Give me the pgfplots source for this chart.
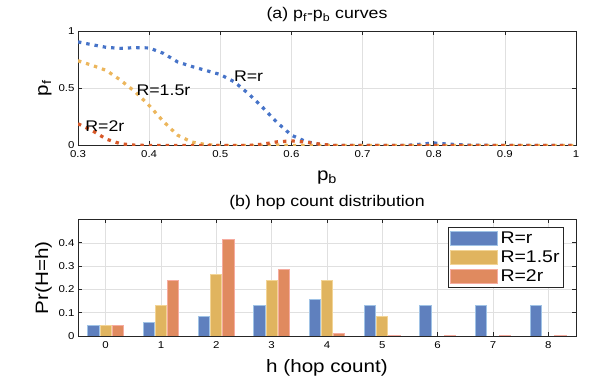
\documentclass[border=0pt]{standalone}
\usepackage{pgfplots}
\pgfplotsset{compat=1.18}
\usepackage{fontspec}
\setmainfont[FakeStretch=1.15]{Liberation Sans}
\definecolor{lblue}{RGB}{70,115,200}
\definecolor{lyellow}{RGB}{236,182,92}
\definecolor{lorange}{RGB}{215,88,40}
\definecolor{bblue}{RGB}{95,128,190}
\definecolor{bblueE}{RGB}{160,195,230}
\definecolor{byellow}{RGB}{224,180,95}
\definecolor{byellowE}{RGB}{242,212,150}
\definecolor{borange}{RGB}{224,138,95}
\definecolor{borangeE}{RGB}{246,172,160}
\pgfplotsset{
  mystyle/.style={
    scale only axis,
    axis line style={black!85, line width=0.6bp},
    every tick/.style={black!85, line width=0.6bp},
    major tick length=4bp,
    grid style={black!12, line width=0.5bp},
    xmajorgrids, ymajorgrids,
    tick label style={font=\fontsize{10}{11}\selectfont},
    xticklabel style={yshift=-2bp},
    /pgf/number format/assume math mode=true,
    title style={font=\fontsize{15.5}{17}\selectfont},
    label style={font=\fontsize{18}{20}\selectfont},
  },
  dotline/.style={line width=3.2bp, dash pattern=on 3.4bp off 5bp, line cap=butt},
  barleg/.style={legend image code/.code={\draw[##1] (0bp,-7bp) rectangle (47bp,7bp);}},
}
\begin{document}
\begin{tikzpicture}
\path[use as bounding box] (0,0) rectangle (594bp,383bp);
\begin{axis}[mystyle,
  at={(78bp,237.5bp)}, anchor=south west,
  width=498bp, height=114.5bp,
  xmin=0.3, xmax=1, ymin=0, ymax=1,
  xtick={0.3,0.4,0.5,0.6,0.7,0.8,0.9,1},
  ytick={0,0.5,1},
  title={(a) p\textsubscript{f}-p\textsubscript{b} curves},
  xlabel={p\textsubscript{b}},
  xlabel style={yshift=-6bp},
  ylabel={p\textsubscript{f}},
]
\addplot[lblue, dotline] coordinates {
(0.30,0.905) (0.32,0.88) (0.34,0.857) (0.36,0.848) (0.38,0.855) (0.40,0.852)
(0.42,0.805) (0.44,0.73) (0.46,0.69) (0.48,0.655) (0.50,0.62) (0.52,0.555)
(0.54,0.45) (0.56,0.33) (0.58,0.2) (0.60,0.09) (0.62,0.035) (0.64,0.01)
(0.66,0.0) (0.70,0) (0.76,0) (0.78,0.01) (0.80,0.022) (0.82,0.012) (0.85,0.003)
(0.90,0) (1.0,0)};
\addplot[lyellow, dotline] coordinates {
(0.30,0.74) (0.32,0.70) (0.34,0.655) (0.36,0.57) (0.38,0.47) (0.40,0.35)
(0.42,0.21) (0.44,0.09) (0.46,0.03) (0.48,0.008) (0.50,0) (0.56,0) (0.58,0.004)
(0.60,0) (1.0,0)};
\addplot[lorange, dotline] coordinates {
(0.30,0.19) (0.32,0.13) (0.34,0.055) (0.36,0.015) (0.38,0.003) (0.40,0)
(0.54,0) (0.56,0.012) (0.58,0.032) (0.60,0.04) (0.62,0.03) (0.64,0.012)
(0.66,0) (1.0,0)};
\node[anchor=west, inner sep=0pt, font=\fontsize{15.5}{17}\selectfont] at (axis cs:0.519,0.607) {R=r};
\node[anchor=west, inner sep=0pt, font=\fontsize{15.5}{17}\selectfont] at (axis cs:0.382,0.485) {R=1.5r};
\node[anchor=west, inner sep=0pt, font=\fontsize{15.5}{17}\selectfont] at (axis cs:0.31,0.17) {R=2r};
\end{axis}

\begin{axis}[mystyle,
  at={(78bp,47bp)}, anchor=south west,
  width=498bp, height=116.5bp,
  xmin=-0.5, xmax=8.5, ymin=0, ymax=0.5,
  xtick={0,1,2,3,4,5,6,7,8},
  ytick={0,0.1,0.2,0.3,0.4},
  title={(b) hop count distribution},
  xlabel={h (hop count)},
  xlabel style={yshift=-4bp},
  ylabel={Pr(H=h)},
  legend style={at={(rel axis cs:0.976,0.936)}, anchor=north east,
    draw=black!85, line width=0.6bp, font=\fontsize{17}{18}\selectfont,
    row sep=1.5bp, inner sep=2bp, nodes={inner sep=2.2bp}},
  legend cell align=left,
]
\addplot[ybar, bar width=0.2, bar shift=-0.22, fill=bblue, draw=bblueE, line width=1bp, barleg] coordinates {
(0,0.046) (1,0.06) (2,0.083) (3,0.133) (4,0.157) (5,0.133) (6,0.133) (7,0.133) (8,0.133)};
\addplot[ybar, bar width=0.2, bar shift=0, fill=byellow, draw=byellowE, line width=1bp, barleg] coordinates {
(0,0.046) (1,0.13) (2,0.262) (3,0.238) (4,0.238) (5,0.082)};
\addplot[ybar, bar width=0.2, bar shift=0.22, fill=borange, draw=borangeE, line width=1bp, barleg] coordinates {
(0,0.046) (1,0.238) (2,0.415) (3,0.286) (4,0.012) (5,0.003) (6,0.002) (7,0.002) (8,0.002)};
\legend{R=r, R=1.5r, R=2r}
\end{axis}
\end{tikzpicture}
\end{document}
